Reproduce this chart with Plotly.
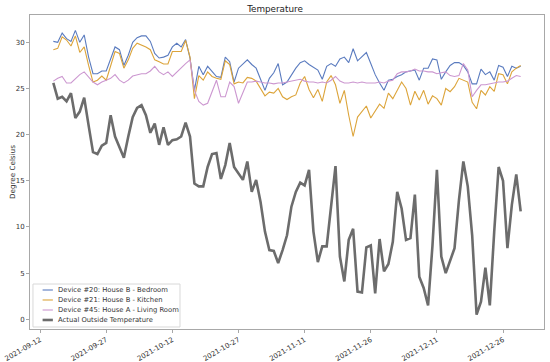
import pandas as pd
import plotly.graph_objects as go

dates = pd.date_range("2021-09-15", "2021-12-30", freq="D")

bedroom = [30.1, 30.0, 31.0, 30.4, 30.1, 31.3, 30.0, 30.8, 28.4, 26.6,
           26.6, 26.9, 26.9, 28.2, 29.5, 29.2, 27.5, 28.6, 30.0, 30.5,
           30.7, 30.7, 30.1, 28.8, 28.3, 28.4, 28.6, 29.5, 29.9, 29.5,
           30.3, 28.3, 24.8, 27.4, 26.5, 27.4, 26.8, 26.3, 26.2, 28.4,
           27.9, 25.7, 27.2, 27.7, 28.1, 27.6, 27.2, 26.0, 24.8, 26.1,
           26.7, 27.7, 25.4, 25.7, 26.5, 27.2, 27.8, 28.0, 27.6, 27.3,
           27.0, 26.0, 27.4, 27.7, 27.4, 28.2, 28.4, 27.8, 29.3, 28.0,
           28.4, 28.9, 27.7, 26.5, 25.6, 24.8, 25.9, 26.0, 26.3, 26.5,
           26.8, 26.9, 27.0, 25.9, 27.2, 27.2, 28.2, 28.1, 26.0, 26.8,
           27.5, 27.8, 27.8, 27.5, 26.8, 25.5, 25.5, 27.1, 26.5, 26.8,
           25.9, 27.5, 27.3, 26.3, 27.4, 27.2, 27.4]

kitchen = [29.2, 29.35, 30.6, 30.25, 29.6, 30.7, 28.9, 29.5, 27.5, 25.7,
           25.9, 26.35, 25.9, 27.5, 29.0, 28.8, 27.2, 28.1, 29.35, 29.9,
           29.7, 29.5, 29.2, 28.1, 27.9, 27.65, 27.65, 29.0, 29.0, 29.0,
           30.2, 28.4, 23.9, 26.4, 25.9, 26.8, 26.3, 26.1, 26.0, 28.0,
           27.6, 25.5, 25.7, 25.6, 26.2, 26.1, 25.8, 25.0, 24.2, 24.6,
           24.5, 25.0, 24.1, 23.8, 24.1, 24.3, 25.6, 26.3, 24.9, 24.0,
           24.9, 23.6, 25.7, 26.4, 25.4, 23.4, 24.8, 22.1, 19.8, 21.9,
           22.5, 23.1, 21.8, 22.5, 23.3, 22.85, 24.5, 23.9, 24.8, 25.7,
           25.0, 23.2, 24.7, 23.75, 24.8, 23.3, 24.2, 23.9, 23.2, 25.0,
           24.65, 25.2, 26.1, 25.9, 25.7, 23.5, 22.8, 24.8, 24.3, 25.2,
           24.7, 26.6, 26.5, 25.5, 26.8, 27.2, 27.5]

living_room = [25.8, 26.1, 26.3, 25.6, 25.6, 26.1, 26.5, 26.8, 26.3, 25.7,
               25.4, 25.7, 25.9, 26.1, 26.5, 25.9, 25.6, 25.9, 26.35, 26.5,
               26.6, 26.6, 26.9, 27.4, 26.8, 26.5, 26.8, 26.3, 26.8, 27.3,
               27.7, 28.1, 24.8, 23.6, 23.2, 23.4, 24.6, 25.9, 24.1, 24.1,
               25.7, 25.2, 23.4, 24.6, 25.7, 25.7, 25.8, 25.7, 25.6, 25.6,
               25.5, 25.6, 25.6, 25.7, 25.8, 25.9, 26.0, 25.8, 25.7, 25.7,
               25.6, 25.7, 25.6, 25.9, 26.3, 25.8, 25.6, 25.6, 25.7, 25.6,
               25.7, 25.6, 25.6, 25.6, 25.7, 25.6, 25.8, 25.9, 26.6, 26.8,
               26.8, 26.9, 27.1, 26.9, 26.9, 26.8, 26.8, 26.6, 26.7, 26.8,
               26.4, 26.3, 26.4, 27.7, 27.0, 24.1, 24.8, 25.4, 25.4, 25.5,
               25.6, 25.7, 25.7, 25.8, 26.1, 26.4, 26.3]

outside = [25.6, 23.9, 24.1, 23.6, 24.5, 21.8, 22.5, 24.0, 21.0, 18.1,
           17.9, 18.8, 19.1, 22.1, 19.8, 18.6, 17.5, 19.8, 21.9, 22.9,
           23.2, 22.1, 20.2, 21.2, 18.9, 20.8, 18.9, 19.4, 19.5, 19.8,
           21.3, 19.8, 14.7, 14.4, 14.4, 16.5, 17.9, 18.0, 15.2, 16.7,
           19.1, 16.5, 15.8, 15.1, 17.1, 13.8, 15.1, 12.7, 9.5, 7.5,
           7.4, 6.1, 7.5, 9.1, 12.2, 13.8, 14.8, 14.5, 16.2, 9.5,
           6.2, 7.9, 7.9, 12.4, 16.6, 6.8, 4.1, 8.6, 9.8, 3.0,
           2.9, 7.8, 8.0, 2.8, 8.7, 5.2, 6.0, 8.4, 13.8, 12.0,
           8.6, 8.8, 13.5, 4.6, 3.4, 1.5, 8.0, 16.2, 6.8, 5.0,
           6.4, 7.7, 12.9, 17.1, 14.4, 9.1, 0.5, 1.9, 5.6, 1.5,
           9.5, 16.5, 15.0, 7.7, 12.4, 15.7, 11.7]

tick_dates = ["2021-09-12", "2021-09-27", "2021-10-12", "2021-10-27",
              "2021-11-11", "2021-11-26", "2021-12-11", "2021-12-26"]

series_names = ["Device #20: House B - Bedroom", "Device #21: House B - Kitchen",
                "Device #45: House A - Living Room", "Actual Outside Temperature"]
series_colors = ["#5a7bbf", "#dca43a", "#cc97d0", "#6c6c6c"]
series_widths = [1.1, 1.1, 1.1, 2.6]
series_values = [bedroom, kitchen, living_room, outside]

fig = go.Figure()
for name, vals, color, w in zip(series_names, series_values, series_colors, series_widths):
    fig.add_trace(go.Scatter(x=dates, y=vals, mode="lines", name=name,
                             line=dict(color=color, width=w), showlegend=False))

# compact matplotlib-style legend (bottom-left, inside axes)
shapes = [dict(type="rect", xref="paper", yref="paper", x0=0.0058, x1=0.2918,
               y0=0.0064, y1=0.1433, line=dict(color="#d8d8d8", width=1),
               fillcolor="rgba(255,255,255,0.85)", layer="above")]
annotations = [dict(text="Degree Celsius", textangle=-90, xref="paper", yref="paper",
                    x=-0.035, y=0.5, xanchor="center", yanchor="middle",
                    showarrow=False, font=dict(size=7.2, color="#333333"))]
row_y = [0.1242, 0.0924, 0.0605, 0.0287]
for name, color, w, yy in zip(series_names, series_colors, series_widths, row_y):
    shapes.append(dict(type="line", xref="paper", yref="paper", x0=0.0245, x1=0.0445,
                       y0=yy, y1=yy, line=dict(color=color, width=w), layer="above"))
    annotations.append(dict(text=name, xref="paper", yref="paper", x=0.0506, y=yy,
                            xanchor="left", yanchor="middle", showarrow=False,
                            font=dict(size=6.8, color="#333333")))

font = "DejaVu Sans, Verdana, sans-serif"
fig.update_layout(
    width=550, height=362,
    margin=dict(l=30, r=6, t=15, b=33),
    paper_bgcolor="white", plot_bgcolor="white",
    font=dict(family=font, size=7, color="#333333"),
    title=dict(text="Temperature", x=0.5, xanchor="center", y=0.975, yanchor="middle",
               font=dict(size=8.8, color="#222222")),
    showlegend=False,
    shapes=shapes,
    annotations=annotations,
)
fig.update_xaxes(
    type="date",
    range=["2021-09-09 17:00", "2022-01-04 07:00"],
    tickvals=tick_dates, ticktext=tick_dates, tickangle=-30,
    tickfont=dict(size=7, color="#333333"),
    showgrid=False, zeroline=False,
    showline=True, linecolor="#a8a8a8", linewidth=1, mirror=True,
    ticks="outside", ticklen=3, tickcolor="#a8a8a8",
    automargin=False,
)
fig.update_yaxes(
    range=[-1.05, 32.96],
    tickvals=[0, 5, 10, 15, 20, 25, 30],
    tickfont=dict(size=7, color="#333333"),
    showgrid=False, zeroline=False,
    showline=True, linecolor="#a8a8a8", linewidth=1, mirror=True,
    ticks="outside", ticklen=3, tickcolor="#a8a8a8",
    automargin=False,
)
fig.write_html("out.html", config={"displayModeBar": False},
               post_script="document.body.style.margin='0';")
